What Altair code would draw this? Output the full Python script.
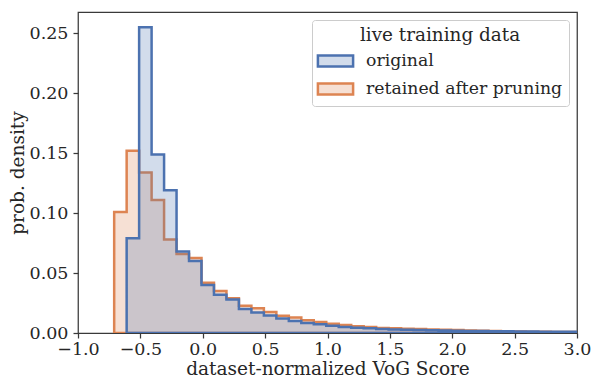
import altair as alt
import pandas as pd

# bin left edges (width 0.1)
orig_x = [-0.61, -0.51, -0.41, -0.31, -0.21, -0.11, -0.01, 0.09, 0.19, 0.29,
          0.39, 0.49, 0.59, 0.69, 0.79, 0.89, 0.99, 1.09, 1.19, 1.29,
          1.39, 1.49, 1.59, 1.69, 1.79, 1.89, 1.99, 2.09, 2.19, 2.29,
          2.39, 2.49, 2.59, 2.69, 2.79, 2.89, 2.99, 3.09]
orig_y = [0.079, 0.255, 0.149, 0.119, 0.068, 0.060, 0.040, 0.032, 0.028, 0.020,
          0.017, 0.0147, 0.012, 0.010, 0.0083, 0.0072, 0.0061, 0.0050, 0.0044, 0.0039,
          0.0033, 0.0030, 0.0028, 0.0025, 0.0023, 0.0021, 0.0019, 0.0017, 0.0016, 0.0015,
          0.0014, 0.0013, 0.0012, 0.0011, 0.0011, 0.0010, 0.0010, 0.0010]

ret_x = [-0.71, -0.61, -0.51, -0.41, -0.31, -0.21, -0.11, -0.01, 0.09, 0.19, 0.29,
         0.39, 0.49, 0.59, 0.69, 0.79, 0.89, 0.99, 1.09, 1.19, 1.29,
         1.39, 1.49, 1.59, 1.69, 1.79, 1.89, 1.99, 2.09, 2.19, 2.29,
         2.39, 2.49, 2.59, 2.69, 2.79, 2.89, 2.99, 3.09]
ret_y = [0.101, 0.152, 0.134, 0.111, 0.078, 0.066, 0.0625, 0.042, 0.035, 0.029, 0.0228,
         0.0206, 0.0175, 0.0144, 0.013, 0.0106, 0.0092, 0.0078, 0.0067, 0.0056, 0.0050,
         0.0042, 0.0039, 0.0036, 0.0033, 0.0030, 0.0027, 0.0024, 0.0021, 0.0019, 0.0017,
         0.0015, 0.0013, 0.0011, 0.0010, 0.0009, 0.0008, 0.0008, 0.0008]

series_names = ["original", "retained after pruning"]
colors = ["#4C72B0", "#DD8452"]

df_orig = pd.DataFrame({"x": orig_x, "y": orig_y, "series": series_names[0]})
df_ret = pd.DataFrame({"x": ret_x, "y": ret_y, "series": series_names[1]})

FONT = "DejaVu Serif"

scale = alt.Scale(domain=series_names, range=colors)
legend = alt.Legend(
    title="live training data",
    orient="top-right",
    offset=8,
    padding=6,
    strokeColor="#cccccc",
    fillColor="rgba(255,255,255,0.8)",
    cornerRadius=3,
    titleFont=FONT,
    titleFontSize=18.4,
    titleFontWeight="normal",
    titleColor="#262626",
    titleAnchor="middle",
    titleAlign="center",
    titlePadding=4,
    labelFont=FONT,
    labelFontSize=17.3,
    labelColor="#262626",
    labelLimit=400,
    symbolType="M-1.6,-0.5H1.6V0.5H-1.6Z",
    symbolSize=484,
    symbolStrokeWidth=2.5,
    symbolOffset=5,
    labelOffset=18,
    rowPadding=5,
)


def layer(df):
    return alt.Chart(df).mark_area(
        interpolate="step-after",
        clip=True,
    ).encode(
        x=alt.X("x:Q", scale=alt.Scale(domain=[-1.0, 3.0], nice=False, zero=False),
                axis=alt.Axis(title="dataset-normalized VoG Score",
                              values=[-1.0, -0.5, 0.0, 0.5, 1.0, 1.5, 2.0, 2.5, 3.0],
                              format=".1f", labelPadding=2, titlePadding=2,
                              labelOverlap=False, labelFlush=False)),
        y=alt.Y("y:Q", stack=None, scale=alt.Scale(domain=[0, 0.2678], nice=False),
                axis=alt.Axis(title="prob. density",
                              values=[0.0, 0.05, 0.10, 0.15, 0.20, 0.25],
                              format=".2f", labelPadding=5, titlePadding=2,
                              labelOverlap=False, labelFlush=False)),
        fill=alt.Fill("series:N", scale=scale, legend=legend),
        stroke=alt.Stroke("series:N", scale=scale, legend=legend),
    )


chart = alt.layer(layer(df_ret), layer(df_orig)).properties(
    width=499, height=321,
    autosize=alt.AutoSizeParams(type="none"),
    padding={"left": 78, "top": 12, "right": 17, "bottom": 46},
    background="white",
).configure_area(
    fillOpacity=0.25, strokeWidth=2.5, strokeOpacity=1,
).configure_view(
    stroke="#3a3a3a", strokeWidth=1.25,
).configure_axis(
    domain=False,
    grid=False,
    ticks=True,
    tickSize=5,
    tickWidth=1.25,
    tickColor="#3a3a3a",
    labelFont=FONT,
    labelFontSize=17.5,
    labelColor="#262626",
    titleFont=FONT,
    titleFontSize=18.5,
    titleFontWeight="normal",
    titleColor="#262626",
)

chart.save("out.html", embed_options={"renderer": "svg", "actions": False})
